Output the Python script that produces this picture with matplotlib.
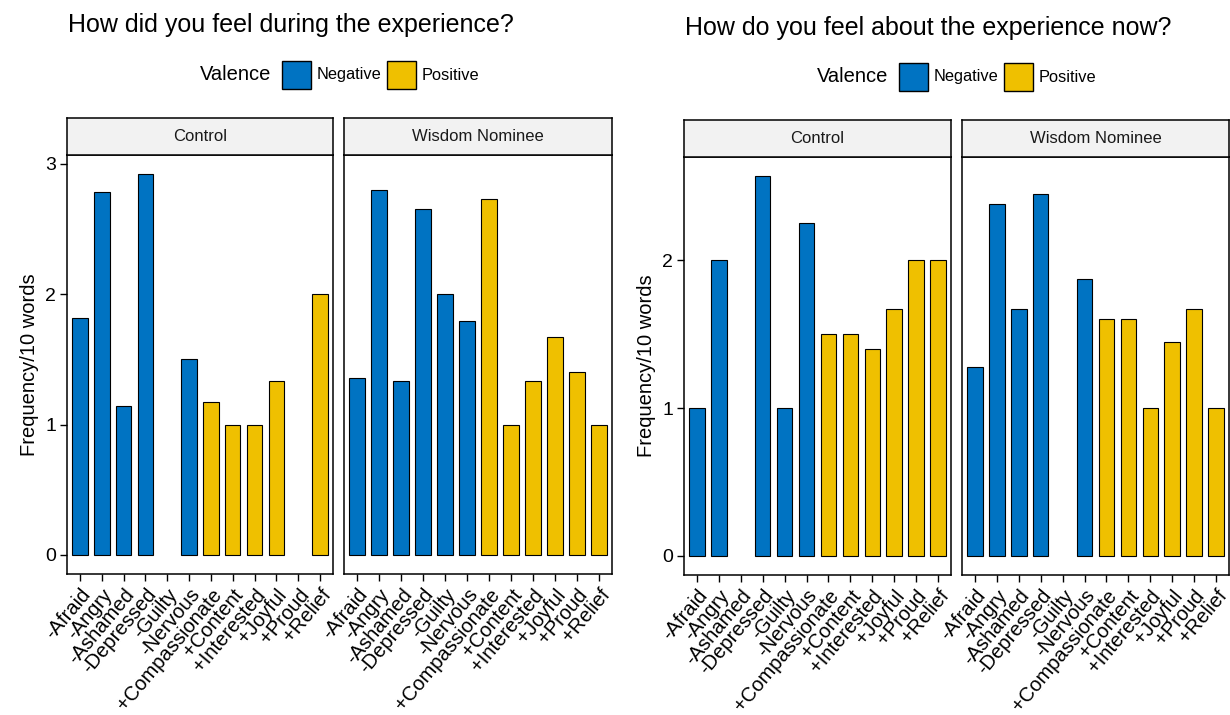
import numpy as np
import matplotlib
matplotlib.use('Agg')
import matplotlib.pyplot as plt
from matplotlib.patches import Rectangle

plt.rcParams['font.family'] = ['Liberation Sans', 'DejaVu Sans']

emotions = ['-Afraid', '-Angry', '-Ashamed', '-Depressed', '-Guilty', '-Nervous',
            '+Compassionate', '+Content', '+Interested', '+Joyful', '+Proud', '+Relief']
valence = ['Negative'] * 6 + ['Positive'] * 6
groups = ['Control', 'Wisdom Nominee']

# frequency per 10 words, 0 = emotion not reported
during_control = [1.82, 2.78, 1.14, 2.92, 0, 1.50, 1.17, 1.00, 1.00, 1.33, 0, 2.00]
during_wisdom = [1.36, 2.80, 1.33, 2.65, 2.00, 1.79, 2.73, 1.00, 1.33, 1.67, 1.40, 1.00]
now_control = [1.00, 2.00, 0, 2.57, 1.00, 2.25, 1.50, 1.50, 1.40, 1.67, 2.00, 2.00]
now_wisdom = [1.28, 2.38, 1.67, 2.45, 0, 1.875, 1.60, 1.60, 1.00, 1.45, 1.67, 1.00]

colors = {'Negative': '#0073C2', 'Positive': '#EFC000'}

W, H = 1230, 715
fig = plt.figure(figsize=(W / 100, H / 100), dpi=100)


def px_box(x0, y0, x1, y1):
    return [x0 / W, 1 - y1 / H, (x1 - x0) / W, (y1 - y0) / H]


def fx(x):
    return x / W


def fy(y):
    return 1 - y / H


def draw_panel(title, series, left, title_y, strip_top, panel_top, panel_bottom, legend_y, legend_x):
    x = np.arange(len(emotions))
    ymax = max(max(s) for s in series)
    lo, hi = -0.05 * ymax, 1.05 * ymax
    facet_edges = [(left[0], left[1]), (left[2], left[3])]
    for k, (vals, grp) in enumerate(zip(series, groups)):
        x0, x1 = facet_edges[k]
        ax = fig.add_axes(px_box(x0, panel_top, x1, panel_bottom))
        vals = np.array(vals, dtype=float)
        keep = vals > 0
        ax.bar(x[keep], vals[keep], width=0.7,
               color=[colors[v] for v, m in zip(valence, keep) if m],
               edgecolor='black', linewidth=0.8, zorder=3)
        ax.set_xlim(-0.6, len(emotions) - 0.4)
        ax.set_ylim(lo, hi)
        ax.set_xticks(x)
        ax.set_xticklabels(emotions, rotation=50, ha='right', va='top',
                           rotation_mode='anchor', fontsize=14.5)
        ax.tick_params(axis='x', length=5, width=1, pad=3)
        for sp in ax.spines.values():
            sp.set_linewidth(1.1)
        if k == 0:
            ax.set_yticks(np.arange(0, int(hi) + 1))
            ax.tick_params(axis='y', length=5, width=1, labelsize=14, pad=3)
        else:
            ax.set_yticks([])
        # facet strip
        st = fig.add_axes(px_box(x0, strip_top, x1, panel_top))
        st.set_facecolor('#F2F2F2')
        st.set_xticks([])
        st.set_yticks([])
        for sp in st.spines.values():
            sp.set_linewidth(1.1)
        st.text(0.5, 0.5, grp, ha='center', va='center', fontsize=12,
                color='#1a1a1a', transform=st.transAxes)

    fig.text(fx(left[0] + 1), fy(title_y), title, fontsize=18, ha='left', va='center')
    fig.text(fx(left[0] - 37), fy((panel_top + panel_bottom) / 2), 'Frequency/10 words',
             rotation=90, fontsize=14.5, ha='center', va='center')

    # legend
    lx = legend_x
    fig.text(fx(lx), fy(legend_y), 'Valence', fontsize=14.5, ha='left', va='center')
    kx = lx + 82
    for name in ['Negative', 'Positive']:
        fig.patches.append(Rectangle((fx(kx), fy(legend_y + 14)), 29 / W, 28 / H,
                                     transform=fig.transFigure, facecolor=colors[name],
                                     edgecolor='black', linewidth=1.0))
        fig.text(fx(kx + 35), fy(legend_y), name, fontsize=11.8, ha='left', va='center')
        kx += 105


draw_panel('How did you feel during the experience?', [during_control, during_wisdom],
           (67, 333, 344, 612), 25, 118, 155, 574, 75, 200)
draw_panel('How do you feel about the experience now?', [now_control, now_wisdom],
           (684, 951, 962, 1229), 28, 120, 157, 575, 77, 817)

fig.savefig('out.png', dpi=100)
